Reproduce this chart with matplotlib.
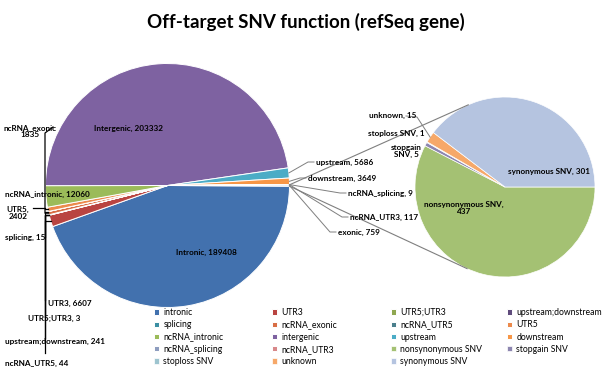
import numpy as np
import matplotlib
matplotlib.use('Agg')
import matplotlib.pyplot as plt
from matplotlib.legend import Legend

# ---------------- data ----------------
main_labels = ['intronic', 'UTR3', 'UTR5;UTR3', 'upstream;downstream', 'splicing',
               'ncRNA_exonic', 'ncRNA_UTR5', 'UTR5', 'ncRNA_intronic', 'intergenic',
               'upstream', 'downstream', 'ncRNA_splicing', 'ncRNA_UTR3', 'exonic']
main_values = [189408, 6607, 3, 241, 15, 1835, 44, 2402, 12060, 203332,
               5686, 3649, 9, 117, 759]
sub_labels = ['nonsynonymous SNV', 'stopgain SNV', 'stoploss SNV', 'unknown', 'synonymous SNV']
sub_values = [437, 5, 1, 15, 301]

main_colors = ['#4271AE', '#B94441', '#8FA750', '#5F4B7C', '#3B8FA3',
               '#D86E45', '#4A7F8C', '#EC8A4C', '#9BBB59', '#7E62A1',
               '#4BACC6', '#F79646', '#8E9DBF', '#D8888A', '#C8D2E4']
sub_colors = ['#A4C173', '#8D86B0', '#9DC4CF', '#F6A869', '#B5C4E0']

H = 369
FONT = 'Lato'


def Y(y):
    return H - y


fig = plt.figure(figsize=(6.02, 3.69), dpi=100)
ax = fig.add_axes([0, 0, 1, 1])

main_c = (167.5, Y(185.5))
main_r = 122
sub_c = (505, Y(187))
sub_r = 90

total = sum(main_values)
exonic_deg = main_values[-1] / total * 360.0

wm, _ = ax.pie(main_values, colors=main_colors, startangle=-exonic_deg / 2,
               counterclock=False, center=main_c, radius=main_r, frame=True,
               wedgeprops=dict(edgecolor='white', linewidth=0.7))
ws, _ = ax.pie(sub_values, colors=sub_colors, startangle=0,
               counterclock=False, center=sub_c, radius=sub_r, frame=True,
               wedgeprops=dict(edgecolor='white', linewidth=0.5))

ax.set_xlim(0, 602)
ax.set_ylim(0, H)
ax.set_aspect('equal')
ax.axis('off')


def edge_pt(w, c, r, frac=1.0):
    a = np.deg2rad((w.theta1 + w.theta2) / 2)
    return c[0] + r * frac * np.cos(a), c[1] + r * frac * np.sin(a)


def ang_pt(c, r, deg):
    a = np.deg2rad(deg)
    return c[0] + r * np.cos(a), c[1] + r * np.sin(a)


# ---------------- connector lines between pies ----------------
ex = wm[-1]
for deg, sign in ((ex.theta2, 1), (ex.theta1, -1)):
    A = np.array(ang_pt(main_c, main_r, deg))
    C = np.array(sub_c)
    d = np.linalg.norm(A - C)
    phi = np.arctan2(A[1] - C[1], A[0] - C[0])
    t = phi - sign * np.arccos(sub_r / d)
    T = C + sub_r * np.array([np.cos(t), np.sin(t)])
    ax.plot([A[0], T[0]], [A[1], T[1]], color='#7F7F7F', lw=0.8, zorder=3)

# ---------------- text helpers ----------------
FS = 5.9


def txt(x, y, s, ha='left', fs=FS, color='black'):
    ax.text(x, Y(y), s, ha=ha, va='center', fontsize=fs, fontweight='bold',
            family=FONT, color=color, zorder=5, linespacing=1.05)


# inner labels main pie
txt(129, 128, 'Intergenic, 203332', ha='center')
txt(206, 252, 'Intronic, 189408', ha='center')

# left labels
txt(30, 131, 'ncRNA_exonic\n1835', ha='center')
txt(5, 194, 'ncRNA_intronic, 12060')
txt(18, 213, 'UTR5,\n2402', ha='center')
txt(5, 237, 'splicing, 15')
txt(48, 303, 'UTR3, 6607')
txt(28, 318, 'UTR5;UTR3, 3')
txt(5, 341, 'upstream;downstream, 241')
txt(5, 363, 'ncRNA_UTR5, 44')

# left leader lines (black)
idx = {n: i for i, n in enumerate(main_labels)}
LX = 45
left_leaders = {
    'ncRNA_exonic': [(53, 127), (LX, 133)],
    'UTR5': [(33, 208), (LX, 208)],
    'splicing': [(LX, 237)],
    'UTR3': [(LX, 300)],
    'UTR5;UTR3': [(LX, 316)],
    'upstream;downstream': [(LX, 338)],
    'ncRNA_UTR5': [(LX, 353)],
}
for name, pts in left_leaders.items():
    px, py = edge_pt(wm[idx[name]], main_c, main_r)
    xs = [p[0] for p in pts] + [LX, px]
    ys = [Y(p[1]) for p in pts] + [py, py]
    ax.plot(xs, ys, color='black', lw=0.9, zorder=4)

# right labels (main pie)
right = {
    'upstream': ('upstream, 5686', 316, 162),
    'downstream': ('downstream, 3649', 308, 178),
    'ncRNA_splicing': ('ncRNA_splicing, 9', 348, 193),
    'ncRNA_UTR3': ('ncRNA_UTR3, 117', 350, 217),
    'exonic': ('exonic, 759', 338, 232),
}
for name, (s, x, y) in right.items():
    txt(x, y, s)
    px, py = edge_pt(wm[idx[name]], main_c, main_r)
    ax.plot([x - 2, x - 8, px], [Y(y), Y(y), py], color='#7F7F7F', lw=0.7, zorder=4)

# secondary pie labels
sidx = {n: i for i, n in enumerate(sub_labels)}
txt(549, 171, 'synonymous SNV, 301', ha='center')
txt(464, 208, 'nonsynonymous SNV,\n437', ha='center')
txt(369, 115, 'unknown, 15')
txt(368, 133, 'stoploss SNV, 1')
txt(406, 151, 'stopgain\nSNV, 5', ha='center')
px, py = edge_pt(ws[sidx['unknown']], sub_c, sub_r)
ax.plot([406, 417, px], [Y(116), Y(117), py], color='#7F7F7F', lw=0.7, zorder=4)

# ---------------- title ----------------
fig.text(306 / 602, 1 - 22 / H, 'Off-target SNV function (refSeq gene)', ha='center',
         va='center', fontsize=13.5, fontweight='bold', family=FONT)

# ---------------- legend (row-wise, 4 columns) ----------------
handles = list(wm[:-1]) + list(ws)
names = main_labels[:-1] + sub_labels
col_x = [154, 272, 391, 507]
LFS = 6.2
for c in range(4):
    hs = handles[c::4]
    ls = names[c::4]
    leg = Legend(ax, hs, ls, loc='upper left', bbox_to_anchor=(col_x[c] / 602, 1 - 308 / H),
                 bbox_transform=fig.transFigure, frameon=False,
                 handlelength=0.55, handleheight=0.55, handletextpad=0.55,
                 labelspacing=0.38, borderpad=0, borderaxespad=0,
                 prop=dict(family=FONT, size=LFS))
    ax.add_artist(leg)

fig.savefig('out.png', dpi=100)
